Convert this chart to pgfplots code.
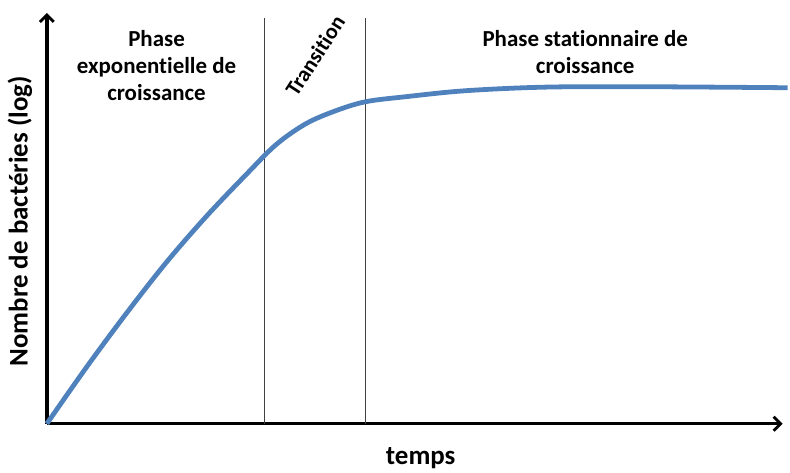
\documentclass[border=0pt]{standalone}
\usepackage{fontspec}
\setmainfont{Carlito}[Ligatures=NoCommon]
\usepackage{pgfplots}
\pgfplotsset{compat=1.18}
\usetikzlibrary{arrows.meta}
\definecolor{curveblue}{HTML}{4F81BD}
\begin{document}
\begin{tikzpicture}
\begin{axis}[
  scale only axis, width=738pt, height=412pt,
  xmin=0, xmax=738, ymin=0, ymax=412,
  axis lines=left,
  axis line style={line width=3.4pt, -{Straight Barb[length=7pt,width=14pt,line width=2.8pt]}},
  xtick=\empty, ytick=\empty,
  clip=false,
]
\path (axis cs:-47,-48) rectangle (axis cs:743,425);
\addplot[black!75, line width=1.2pt] coordinates {(218,0) (218,407)};
\addplot[black!75, line width=1.2pt] coordinates {(320,0) (320,407)};
\addplot[curveblue, line width=4.8pt, smooth, tension=0.55, line cap=butt] coordinates {
(0,0) (40,57) (80,111) (120,162) (160,208) (200,250) (230,280) (260,301) (290,314) (320,323) (360,328) (420,334) (500,337.6) (600,338) (743,337)};
\node[font=\bfseries\fontsize{23}{27}\selectfont, align=center] at (axis cs:110,359) {Phase\\exponentielle de\\croissance};
\node[font=\bfseries\fontsize{23}{27}\selectfont, align=center] at (axis cs:540,373) {Phase stationnaire de\\croissance};
\node[font=\bfseries\fontsize{22}{24}\selectfont, rotate=57] at (axis cs:269,369) {Transition};
\node[font=\bfseries\fontsize{27}{27}\selectfont] at (axis cs:375,-35) {temps};
\node[font=\bfseries\fontsize{27}{27}\selectfont, rotate=90] at (axis cs:-27,203) {Nombre de bactéries (log)};
\end{axis}
\end{tikzpicture}
\end{document}
